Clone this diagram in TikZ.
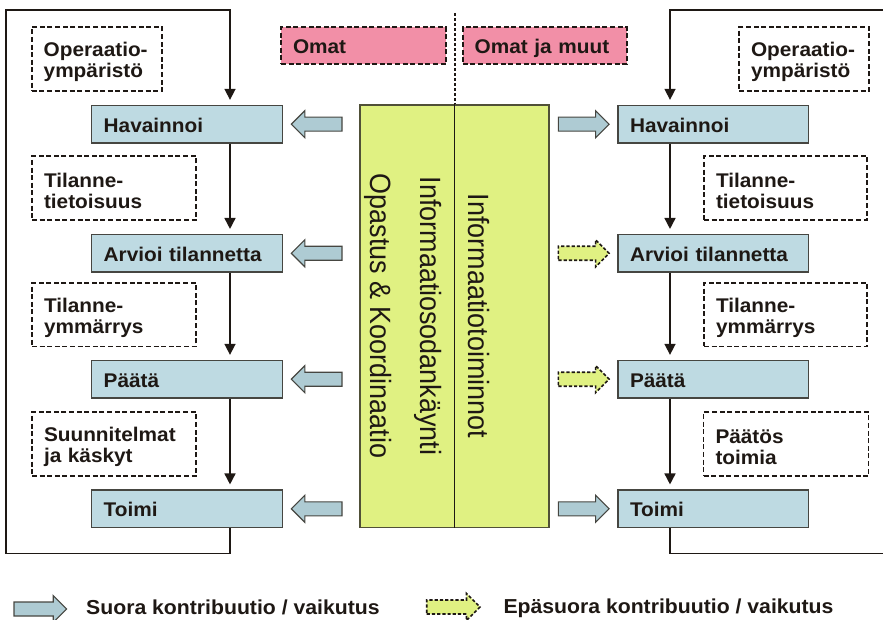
\documentclass[tikz,border=0pt]{standalone}
\usepackage{fontspec}
\setmainfont{Liberation Sans}[FakeStretch=1.05]
\newfontfamily\vertfont{Liberation Sans}[FakeStretch=0.92]
\usetikzlibrary{arrows.meta,calc}

\definecolor{ink}{RGB}{30,24,20}
\definecolor{frame}{RGB}{70,70,65}
\definecolor{actblue}{RGB}{190,218,226}
\definecolor{arrblue}{RGB}{174,203,211}
\definecolor{tagpink}{RGB}{242,143,167}
\definecolor{infogreen}{RGB}{224,241,130}
\definecolor{greenframe}{RGB}{80,80,55}

\tikzset{
  labelfont/.style={font=\fontsize{19.8}{21}\selectfont\bfseries, text=ink},
  actbox/.style={labelfont, draw=frame, line width=1.2pt, fill=actblue,
    minimum width=190.6pt, minimum height=37.5pt, text width=166.6pt,
    inner xsep=12pt, inner ysep=0pt, align=left, text height=16pt, text depth=0pt},
  notebox/.style={labelfont, draw=ink, line width=1.9pt, dash pattern=on 5pt off 2.6pt,
    minimum height=63.5pt, inner xsep=12pt, inner ysep=0pt, align=left,
    execute at begin node={\rule{0pt}{20pt}}},
  tagbox/.style={labelfont, draw=ink, fill=tagpink, line width=1.9pt,
    dash pattern=on 5pt off 2.6pt, minimum height=37pt, inner xsep=12pt,
    inner ysep=0pt, align=left, text height=16pt, text depth=0pt},
  vtext/.style={font=\vertfont\fontsize{29.3}{30}\selectfont, text=ink,
    rotate=-90, inner sep=0pt, anchor=base},
  loopline/.style={draw=ink, line width=1.6pt},
  flow/.style={loopline, -{Triangle[length=11pt,width=11pt]}, shorten >=5pt},
  direct/.style={draw=frame, fill=arrblue, line width=1.1pt, line join=miter},
  indirect/.style={draw=ink, fill=infogreen, line width=1.6pt,
    dash pattern=on 3.2pt off 2pt},
}

% block arrow from a start point to a tip point (horizontal)
\newcommand\fatarrow[3][]{%
  \draw[#1] let \p1=(#2), \p2=(#3), \p3=($(\p2)!13.5pt!(\p1)$) in
    (\x1,\y1-7pt) -- (\x3,\y1-7pt) -- (\x3,\y1-13.5pt) -- (\x2,\y2)
    -- (\x3,\y1+13.5pt) -- (\x3,\y1+7pt) -- (\x1,\y1+7pt) -- cycle;}

\begin{document}
\begin{tikzpicture}[x=1pt,y=-1pt]
\useasboundingbox (0,0) rectangle (883,620);

% central information block
\node[draw=greenframe, line width=1.4pt, fill=infogreen, minimum width=189pt,
      minimum height=422.7pt, inner sep=0pt] (gbox) at (454.5,316.3) {};
\draw[ink, line width=1.1pt] (gbox.north) -- (gbox.south);
\coordinate (dtop) at (454.5,13);
\draw[ink, line width=2pt, dash pattern=on 3pt off 2pt] (dtop) -- (gbox.north);

\node[vtext] (vopa) at (370,316) {Opastus \& Koordinaatio};
\node[vtext] (vsod) at (420,316) {Informaatiosodankäynti};
\node[vtext] (vtoi) at (468,316) {Informaatiotoiminnot};

% headers
\node[tagbox, text width=141pt] (own) at (363.5,45.8) {Omat};
\node[tagbox, text width=140pt] (all) at (544.7,45.8) {Omat ja muut};

% left decision loop
\node[actbox] (hav1) at (187,124.2) {Havainnoi};
\node[actbox] (arv1) at (187,253.3) {Arvioi tilannetta};
\node[actbox] (pae1) at (187,379.2) {Päätä};
\node[actbox] (toi1) at (187,508.8) {Toimi};

\node[notebox, text width=106.6pt] (env1) at (97,59) {Operaatio-\\ympäristö};
\node[notebox, text width=140pt] (sa1) at (114,188) {Tilanne-\\tietoisuus};
\node[notebox, text width=140pt] (su1) at (114,314.7) {Tilanne-\\ymmärrys};
\node[notebox, text width=140pt] (pl1) at (114,444) {Suunnitelmat\\ja käskyt};

\coordinate (ltop) at (6,10);
\coordinate (lbot) at (6,553.3);
\coordinate (lx) at (230,0);
\draw[flow] (toi1.south -| lx) |- (lbot) -- (ltop) -- (ltop -| lx) -- (hav1.north -| lx);
\draw[flow] (hav1.south -| lx) -- (arv1.north -| lx);
\draw[flow] (arv1.south -| lx) -- (pae1.north -| lx);
\draw[flow] (pae1.south -| lx) -- (toi1.north -| lx);

% right decision loop
\node[actbox] (hav2) at (713.3,124.2) {Havainnoi};
\node[actbox] (arv2) at (713.3,253.3) {Arvioi tilannetta};
\node[actbox] (pae2) at (713.3,379.2) {Päätä};
\node[actbox] (toi2) at (713.3,508.8) {Toimi};

\node[notebox, text width=106pt] (env2) at (804,59) {Operaatio-\\ympäristö};
\node[notebox, text width=139pt] (sa2) at (785.5,188) {Tilanne-\\tietoisuus};
\node[notebox, text width=139pt] (su2) at (785.5,314.7) {Tilanne-\\ymmärrys};
\node[notebox, text width=141pt] (dec2) at (786,444) {Päätös\\toimia};

\coordinate (rtop) at (883,10);
\coordinate (rbot) at (883,553.3);
\coordinate (rx) at (670,0);
\draw[flow] (rtop) -- (rtop -| rx) -- (hav2.north -| rx);
\draw[loopline] (toi2.south -| rx) |- (rbot);
\draw[flow] (hav2.south -| rx) -- (arv2.north -| rx);
\draw[flow] (arv2.south -| rx) -- (pae2.north -| rx);
\draw[flow] (pae2.south -| rx) -- (toi2.north -| rx);

% contributions of the central block
\fatarrow[direct]{$(gbox.west |- hav1)+(-17.3,0)$}{$(hav1.east)+(8.4,0)$}
\fatarrow[direct]{$(gbox.west |- arv1)+(-17.3,0)$}{$(arv1.east)+(8.4,0)$}
\fatarrow[direct]{$(gbox.west |- pae1)+(-17.3,0)$}{$(pae1.east)+(8.4,0)$}
\fatarrow[direct]{$(gbox.west |- toi1)+(-17.3,0)$}{$(toi1.east)+(8.4,0)$}

\fatarrow[direct]{$(gbox.east |- hav2)+(8.7,0)$}{$(hav2.west)+(-8.3,0)$}
\fatarrow[indirect]{$(gbox.east |- arv2)+(8.7,0)$}{$(arv2.west)+(-8.3,0)$}
\fatarrow[indirect]{$(gbox.east |- pae2)+(8.7,0)$}{$(pae2.west)+(-8.3,0)$}
\fatarrow[direct]{$(gbox.east |- toi2)+(8.7,0)$}{$(toi2.west)+(-8.3,0)$}

% legend
\coordinate (k1a) at (14,609);
\coordinate (k1b) at (66.7,609);
\coordinate (k2a) at (426.7,607);
\coordinate (k2b) at (480,607);
\fatarrow[direct]{k1a}{k1b}
\fatarrow[indirect]{k2a}{k2b}
\node[labelfont, font=\fontsize{20.2}{21}\selectfont\bfseries, anchor=base west, inner sep=0pt] (leg1) at (86,614) {Suora kontribuutio / vaikutus};
\node[labelfont, font=\fontsize{20.2}{21}\selectfont\bfseries, anchor=base west, inner sep=0pt] (leg2) at (503.3,613.3) {Epäsuora kontribuutio / vaikutus};
\end{tikzpicture}
\end{document}
